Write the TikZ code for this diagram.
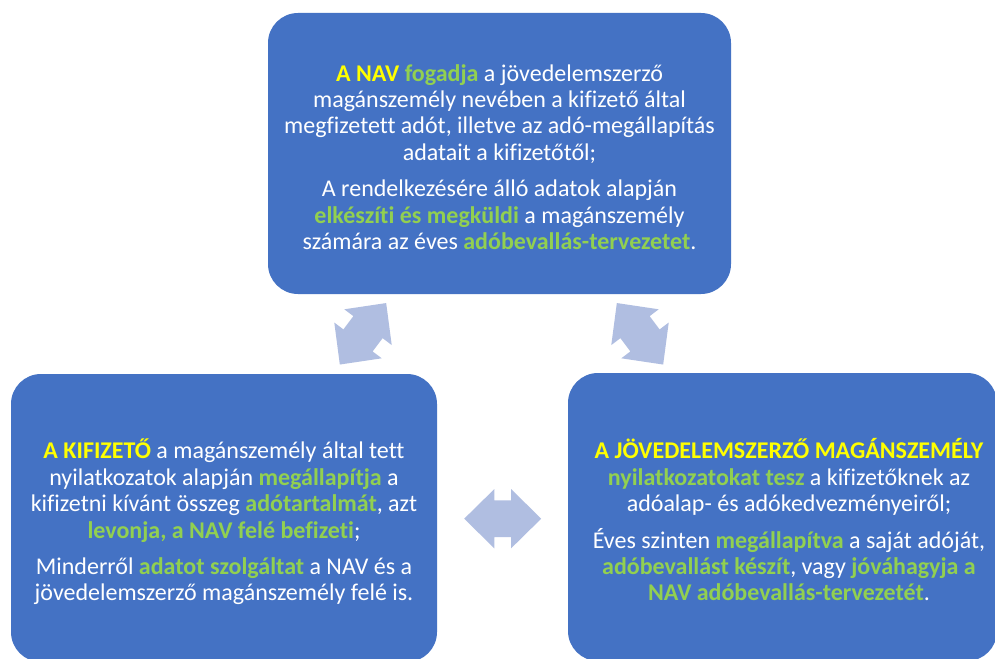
\documentclass[tikz,border=0pt]{standalone}
\usepackage{fontspec}
\setmainfont{Carlito}[Ligatures=NoCommon]
\definecolor{boxblue}{RGB}{68,114,196}
\definecolor{arrowfill}{RGB}{176,190,225}
\definecolor{hlyellow}{RGB}{255,255,0}
\definecolor{hlgreen}{RGB}{146,208,80}
\newcommand{\hy}[1]{\textbf{\textcolor{hlyellow}{#1}}}
\newcommand{\hg}[1]{\textbf{\textcolor{hlgreen}{#1}}}
\begin{document}
\begin{tikzpicture}[x=1pt,y=-1pt,
  boxnode/.style={draw=none,fill=boxblue,rounded corners=30pt,inner sep=0pt},
  txt/.style={text=white,align=center,font=\fontsize{24}{26.4}\selectfont,inner sep=0pt},
  dblarrow/.pic={\fill[arrowfill] (-38.5,0) -- (-8.3,-29.7) -- (-8.3,-18.3) -- (8.3,-18.3) -- (8.3,-29.7) -- (38.5,0) -- (8.3,29.7) -- (8.3,18.3) -- (-8.3,18.3) -- (-8.3,29.7) -- cycle;}]
\useasboundingbox[fill=white] (0,0) rectangle (995,658);

% boxes
\node[boxnode,minimum width=463pt,minimum height=281pt] (navbox) at (499.5,153.5) {};
\node[boxnode,minimum width=426pt,minimum height=288pt] (kifbox) at (224,518) {};
\node[boxnode,minimum width=429pt,minimum height=288pt] (jovbox) at (782.5,517) {};

% texts
\node[txt] (navtxt) at (499.5,157) {\hy{A NAV} \hg{fogadja} a jövedelemszerző\\
magánszemély nevében a kifizető által\\
megfizetett adót, illetve az adó-megállapítás\\
adatait a kifizetőtől;\\[10pt]
A rendelkezésére álló adatok alapján\\
\hg{elkészíti és megküldi} a magánszemély\\
számára az éves \hg{adóbevallás-tervezetet}.};

\node[txt] (kiftxt) at (224,522) {\hy{A KIFIZETŐ} a magánszemély által tett\\
nyilatkozatok alapján \hg{megállapítja} a\\
kifizetni kívánt összeg \hg{adótartalmát}, azt\\
\hg{levonja, a NAV felé befizeti};\\[10pt]
Minderről \hg{adatot szolgáltat} a NAV és a\\
jövedelemszerző magánszemély felé is.};

\node[txt] (jovtxt) at (789,520) {\hy{A JÖVEDELEMSZERZŐ MAGÁNSZEMÉLY}\\
\hg{nyilatkozatokat tesz} a kifizetőknek az\\
adóalap- és adókedvezményeiről;\\[10pt]
Éves szinten \hg{megállapítva} a saját adóját,\\
\hg{adóbevallást készít}, vagy \hg{jóváhagyja a}\\
\hg{NAV adóbevallás-tervezetét}.};

% block arrows
\pic[rotate=53] at (363,333.8) {dblarrow};
\pic[rotate=-53] at (640,333.8) {dblarrow};
\pic at (502.7,518.7) {dblarrow};
\end{tikzpicture}
\end{document}
